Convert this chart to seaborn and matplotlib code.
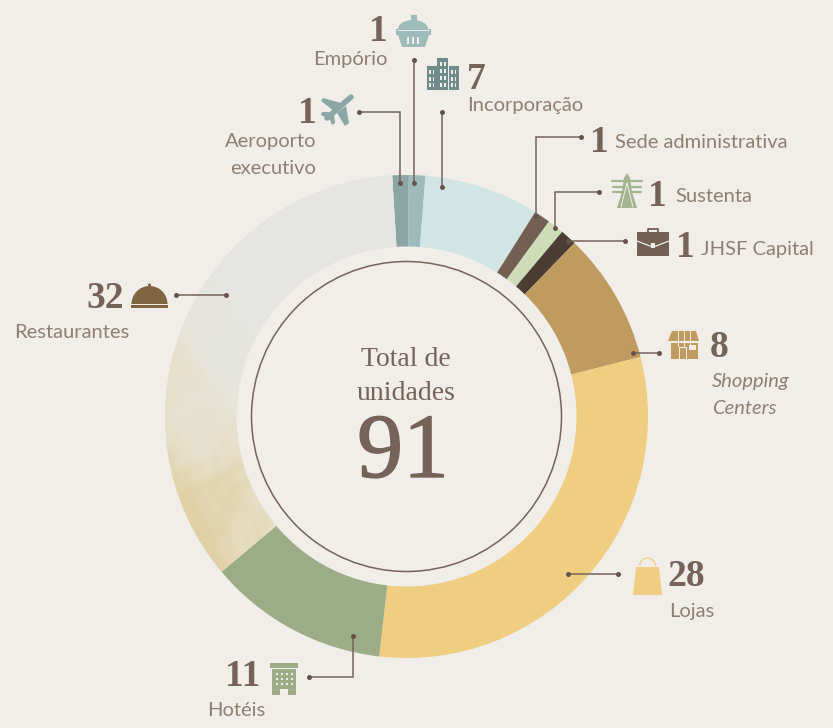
# =========================
# JHSF UNITS DONUT
# =========================

import numpy as np
import seaborn as sns
import matplotlib
matplotlib.use("Agg")
import matplotlib.pyplot as plt
import matplotlib.patheffects as pe
from matplotlib.patches import Polygon, Rectangle, Circle, Wedge, Ellipse

# =========================
# DATA
# =========================

categories = ["Aeroporto executivo", "Empório", "Incorporação", "Sede administrativa",
              "Sustenta", "JHSF Capital", "Shopping Centers", "Lojas", "Hotéis", "Restaurantes"]
units = [1, 1, 7, 1, 1, 1, 8, 28, 11, 32]
slice_colors = ["#8ba6a4", "#9cbbba", "#d2e4e4", "#735f53", "#cfdcb8",
                "#4c3d34", "#bf9b60", "#efce82", "#9bac87", "#e6e3da"]
center_title = ["Total de", "unidades"]
total_units = "91"

BG = "#f1eeea"
BROWN = "#75635a"
LABEL = "#8f7f73"
W, H = 833, 728

sns.set_theme(style="white", rc={"figure.facecolor": BG, "axes.facecolor": BG})

fig = plt.figure(figsize=(W / 100, H / 100), dpi=100)
ax = fig.add_axes([0, 0, 1, 1])


def fy(y):
    # picture y (from the top) to axes y
    return H - y


# =========================
# DONUT
# =========================

CX, CY, R_OUT, R_IN = 406.5, fy(416.5), 241.5, 170
wedges, _ = ax.pie(units, colors=slice_colors, startangle=93.4, counterclock=False,
                   center=(CX, CY), radius=R_OUT, frame=True,
                   wedgeprops={"width": R_OUT - R_IN, "linewidth": 0})
ax.set_aspect("equal")
ax.axis("off")

# watercolour look of the restaurants slice
xx, yy = np.meshgrid(np.arange(150, 420), np.arange(160, 600))
uu = xx + 14 * np.sin(yy / 37) + 6 * np.sin(yy / 11 + 1)
vv = yy + 14 * np.sin(xx / 29 + 2) + 6 * np.sin(xx / 9)
wash = (yy - 235) / 320 + 0.2 * (215 - xx) / 50
wash += 0.09 * np.sin(uu / 27 + vv / 41) + 0.07 * np.sin(uu / 17 - vv / 23 + 1.3)
wash += 0.03 * np.sin(uu / 5.3 + vv / 8.9) + 0.02 * np.sin(uu / 3.1 - vv / 4.7)
cmap = sns.blend_palette(["#e5e5e4", "#e6e5dd", "#e6dfc9", "#e2d0a6"], as_cmap=True)
img = ax.imshow(np.clip(wash, 0, 1), cmap=cmap, vmin=0, vmax=1, interpolation="bilinear",
                extent=(150, 420, fy(600), fy(160)), zorder=2, aspect="equal")
img.set_clip_path(wedges[-1])
ax.set_xlim(0, W)
ax.set_ylim(0, H)

ax.add_patch(Circle((CX, CY), 155, fill=False, ec=BROWN, lw=1.1, zorder=3))

# =========================
# CENTER TEXT
# =========================

SERIF = "Liberation Serif"
SANS = "Lato"

ax.text(406, fy(360), center_title[0], family=SERIF, size=20, color=BROWN, ha="center", va="center")
ax.text(406, fy(393), center_title[1], family=SERIF, size=20, color=BROWN, ha="center", va="center")
ax.text(403, fy(477), total_units, family=SERIF, size=66, color=BROWN, ha="center", va="baseline",
        path_effects=[pe.withStroke(linewidth=1.0, foreground=BROWN)])

# =========================
# LEADER LINES
# =========================

leaders = [
    [(359, 112), (400, 112), (400, 183)],
    [(414.5, 60), (414.5, 183)],
    [(442, 112), (442, 187)],
    [(581, 137), (536.5, 137), (536.5, 216)],
    [(599, 192), (555, 192), (555, 228)],
    [(625, 240.5), (568, 240.5)],
    [(659, 353), (633, 353)],
    [(618, 574), (568, 574)],
    [(309, 677), (353, 677), (353, 636)],
    [(176, 295), (226, 295)],
]
for pts in leaders:
    xs = [p[0] for p in pts]
    ys = [fy(p[1]) for p in pts]
    ax.plot(xs, ys, color=BROWN, lw=1.1, zorder=4, solid_joinstyle="miter")
    ax.plot([xs[0], xs[-1]], [ys[0], ys[-1]], "o", color="#65544b", ms=3.6, mew=0, zorder=5)

# =========================
# NUMBERS AND LABELS
# =========================

numbers = [
    ("1", 307, 110), ("1", 378, 28), ("7", 476, 76), ("1", 599, 139), ("1", 657, 193),
    ("1", 685, 244), ("8", 719, 344), ("28", 686.5, 573), ("11", 243, 673), ("32", 105, 295),
]
for txt, x, y in numbers:
    ax.text(x, fy(y + 13), txt, family=SERIF, weight="bold", size=27, color=BROWN,
            ha="center", va="baseline", zorder=6)


def label(x, y, txt, ha="left", style="normal"):
    ax.text(x, fy(y + 2), txt, family=SANS, style=style, size=14.5, color=LABEL,
            ha=ha, va="center", zorder=6)


label(316, 139, "Aeroporto", ha="right")
label(316, 166, "executivo", ha="right")
label(350, 57, "Empório", ha="center")
label(467, 104, "Incorporação")
label(615, 141, "Sede administrativa")
label(675, 195, "Sustenta")
label(701, 247, "JHSF Capital")
label(712, 380, "Shopping", style="italic")
label(712, 407, "Centers", style="italic")
label(669, 610, "Lojas")
label(207, 708, "Hotéis")
label(14, 331, "Restaurantes")

# =========================
# ICONS
# =========================


def poly(pts, color, z=6):
    ax.add_patch(Polygon([(x, fy(y)) for x, y in pts], closed=True, fc=color, ec="none", zorder=z))


def rect(x0, y0, x1, y1, color, z=6):
    ax.add_patch(Rectangle((x0, fy(y1)), x1 - x0, y1 - y0, fc=color, ec="none", zorder=z))


def ln(pts, color, lw=1.0, z=7):
    ax.plot([p[0] for p in pts], [fy(p[1]) for p in pts], color=color, lw=lw, zorder=z)


# plane
c = "#8ba6a4"
ln([(351, 97), (327, 118)], c, 4.0, z=6)
poly([(341, 103), (323, 98), (321, 101), (334, 111)], c)
poly([(346, 106), (349, 123), (345, 126), (337, 113)], c)
poly([(329, 112), (322, 112), (321, 115), (329, 119)], c)
poly([(329, 117), (332, 125), (335, 123), (334, 114)], c)

# basket
c = "#9cbbba"
ax.add_patch(Ellipse((413, fy(29)), 30, 18, fc=c, ec="none", zorder=6))
rect(411, 15, 417, 24, c)
rect(396, 29, 431, 35, c)
poly([(398, 35), (429, 35), (425, 47), (402, 47)], c)
for x in (407, 412, 417):
    rect(x, 37, x + 2.5, 44, BG, z=7)
ln([(398, 29.5), (429, 29.5)], BG, 0.7)

# buildings
c = "#6f8c8a"
rect(427, 66, 437, 90, c)
rect(449, 66, 459, 90, c)
rect(437.5, 58, 448.5, 90, c)
for x0, x1, ys in [(429.5, 434.5, (70, 77, 83)), (451.5, 456.5, (70, 77, 83)), (440, 446, (62, 69, 76, 83))]:
    for y in ys:
        rect(x0, y, x0 + 1.8, y + 4, BG, z=7)
        rect(x1 - 1.8, y, x1, y + 4, BG, z=7)

# tower
c = "#a3b58f"
poly([(627, 173), (630, 178), (632, 192), (637, 208), (617, 208), (622, 192), (624, 178)], c)
for y, half in [(181, 15), (187, 14), (192, 14)]:
    ln([(627 - half, y), (627 + half, y)], c, 1.6)
ln([(627, 183), (621, 207)], BG, 0.7)
ln([(627, 183), (633, 207)], BG, 0.7)

# briefcase
c = "#735f53"
rect(637, 232, 669, 256, c)
ln([(648, 232), (648, 229), (658, 229), (658, 232)], c, 1.3)
ln([(637, 241), (650, 246), (656, 246), (669, 241)], BG, 0.9)
rect(651, 243, 655, 248, BG, z=7)

# store
c = "#bf9b60"
rect(671, 342, 698, 359, c)
poly([(672, 331), (696, 331), (699, 341), (668, 341)], c)
ln([(668, 341.5), (699, 341.5)], BG, 0.8)
for x in (678, 684, 690):
    ln([(x, 331), (x, 346)], BG, 0.7)
rect(679, 347, 687, 359, BG, z=7)
rect(680, 348, 686, 359, c, z=8)
rect(689, 345, 696, 350, BG, z=7)

# bag
c = "#efce82"
poly([(636, 567), (659, 567), (662, 595), (633, 595)], c)
ax.add_patch(Wedge((647.5, fy(566)), 8.5, 0, 180, width=1.2, fc=c, ec="none", zorder=6))

# hotel
c = "#9bac87"
rect(270, 663, 298, 668, c)
rect(272, 669, 296, 695, c)
rect(280, 689, 288, 695, BG, z=7)
for y in (673, 678, 683):
    for x in (276, 281, 286, 291):
        rect(x, y, x + 2, y + 2, BG, z=7)

# cloche
c = "#7f6541"
ax.add_patch(Wedge((149.5, fy(304)), 18, 0, 180, fc=c, ec="none", zorder=6))
ax.add_patch(Circle((149.5, fy(285)), 1.6, fc=c, ec="none", zorder=6))
rect(131, 305, 168, 308, c)

fig.savefig("out.png", dpi=100, facecolor=BG)
